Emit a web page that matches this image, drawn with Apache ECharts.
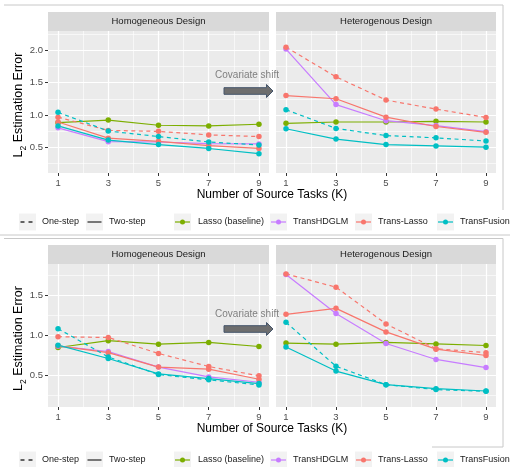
<!DOCTYPE html>
<html><head><meta charset="utf-8">
<script src="https://cdn.jsdelivr.net/npm/echarts@6/dist/echarts.min.js"></script>
<style>html,body{margin:0;padding:0;background:#fff}#c{width:510px;height:467px}</style>
</head><body><div id="c"></div>
<script>
// ---------------- data ----------------
const K = [1, 3, 5, 7, 9];
const xTicks = [1, 3, 5, 7, 9];
const xMinor = [2, 4, 6, 8];
const yTicksTop = [0.5, 1.0, 1.5, 2.0];
const yMinorTop = [0.25, 0.75, 1.25, 1.75, 2.25];
const yTicksBot = [0.5, 1.0, 1.5];
const yMinorBot = [0.25, 0.75, 1.25, 1.75];
const facetNames = ['Homogeneous Design', 'Heterogenous Design'];
const methods = ['Lasso (baseline)', 'TransHDGLM', 'Trans-Lasso', 'TransFusion'];
const methodColors = ['#7CAE00', '#C77CFF', '#F8766D', '#00BFC4'];
const stepNames = ['One-step', 'Two-step'];
const xTitle = 'Number of Source Tasks (K)';
const annotation = 'Covariate shift';

// top figure, homogeneous
const topHomoLasso = [0.88, 0.92, 0.84, 0.83, 0.855];
const topHomoHDGLM = [0.80, 0.585, 0.58, 0.555, 0.55];
const topHomoTLOne = [0.965, 0.76, 0.745, 0.69, 0.665];
const topHomoTLTwo = [0.89, 0.64, 0.59, 0.525, 0.48];
const topHomoTFOne = [1.04, 0.75, 0.665, 0.58, 0.535];
const topHomoTFTwo = [0.83, 0.61, 0.54, 0.48, 0.40];
// top figure, heterogeneous
const topHetLasso = [0.87, 0.89, 0.89, 0.90, 0.89];
const topHetHDGLM = [2.02, 1.16, 0.91, 0.835, 0.74];
const topHetTLOne = [2.05, 1.59, 1.23, 1.09, 0.96];
const topHetTLTwo = [1.30, 1.25, 0.965, 0.82, 0.73];
const topHetTFOne = [1.08, 0.79, 0.68, 0.645, 0.595];
const topHetTFTwo = [0.785, 0.625, 0.54, 0.52, 0.50];
// bottom figure, homogeneous
const botHomoLasso = [0.845, 0.93, 0.887, 0.908, 0.857];
const botHomoHDGLM = [0.862, 0.795, 0.60, 0.476, 0.41];
const botHomoTLOne = [0.98, 0.97, 0.77, 0.607, 0.49];
const botHomoTLTwo = [0.866, 0.78, 0.60, 0.573, 0.447];
const botHomoTFOne = [1.08, 0.727, 0.506, 0.44, 0.376];
const botHomoTFTwo = [0.874, 0.707, 0.514, 0.456, 0.393];
// bottom figure, heterogeneous
const botHetLasso = [0.90, 0.887, 0.908, 0.89, 0.87];
const botHetHDGLM = [1.758, 1.27, 0.895, 0.695, 0.594];
const botHetTLOne = [1.766, 1.60, 1.14, 0.83, 0.78];
const botHetTLTwo = [1.26, 1.335, 1.04, 0.824, 0.745];
const botHetTFOne = [1.16, 0.61, 0.38, 0.318, 0.296];
const botHetTFTwo = [0.85, 0.55, 0.38, 0.33, 0.30];

// ---------------- layout ----------------
const panels = [
  {left: 48, top: 31, width: 221, height: 142, ymin: 0.1, ymax: 2.3, ticks: yTicksTop, minor: yMinorTop, facet: 0, yLabels: true,
   lines: [[0,1,topHomoLasso],[1,1,topHomoHDGLM],[2,0,topHomoTLOne],[2,1,topHomoTLTwo],[3,0,topHomoTFOne],[3,1,topHomoTFTwo]]},
  {left: 276, top: 31, width: 220, height: 142, ymin: 0.1, ymax: 2.3, ticks: yTicksTop, minor: yMinorTop, facet: 1, yLabels: false,
   lines: [[0,1,topHetLasso],[1,1,topHetHDGLM],[2,0,topHetTLOne],[2,1,topHetTLTwo],[3,0,topHetTFOne],[3,1,topHetTFTwo]]},
  {left: 48, top: 264, width: 221, height: 143, ymin: 0.1, ymax: 1.89, ticks: yTicksBot, minor: yMinorBot, facet: 0, yLabels: true,
   lines: [[0,1,botHomoLasso],[1,1,botHomoHDGLM],[2,0,botHomoTLOne],[2,1,botHomoTLTwo],[3,0,botHomoTFOne],[3,1,botHomoTFTwo]]},
  {left: 276, top: 264, width: 220, height: 143, ymin: 0.1, ymax: 1.89, ticks: yTicksBot, minor: yMinorBot, facet: 1, yLabels: false,
   lines: [[0,1,botHetLasso],[1,1,botHetHDGLM],[2,0,botHetTLOne],[2,1,botHetTLTwo],[3,0,botHetTFOne],[3,1,botHetTFTwo]]}
];

const FONT = 'Liberation Sans, Arial, sans-serif';
const grid = [], xAxis = [], yAxis = [], series = [], graphic = [];

panels.forEach((p, i) => {
  grid.push({left: p.left, top: p.top, width: p.width, height: p.height, show: true,
             backgroundColor: '#EBEBEB', borderWidth: 0, containLabel: false});
  // minor axes
  xAxis.push({gridIndex: i, type: 'value', min: 0.6, max: 9.4, position: 'bottom', offset: 0,
    axisLine: {show: false}, axisTick: {show: false, customValues: xMinor},
    axisLabel: {show: false, customValues: xMinor},
    splitLine: {show: true, lineStyle: {color: '#FFFFFF', width: 0.6}}});
  yAxis.push({gridIndex: i, type: 'value', min: p.ymin, max: p.ymax, position: 'left', offset: 0,
    axisLine: {show: false}, axisTick: {show: false, customValues: p.minor},
    axisLabel: {show: false, customValues: p.minor},
    splitLine: {show: true, lineStyle: {color: '#FFFFFF', width: 0.6}}});
  // major axes
  xAxis.push({gridIndex: i, type: 'value', min: 0.6, max: 9.4, position: 'bottom', offset: 0,
    axisLine: {show: false},
    axisTick: {show: true, customValues: xTicks, length: 3, lineStyle: {color: '#333333', width: 1}},
    axisLabel: {show: true, customValues: xTicks, color: '#4D4D4D', fontSize: 9.5, fontFamily: FONT, margin: 5},
    splitLine: {show: true, lineStyle: {color: '#FFFFFF', width: 1.2}}});
  yAxis.push({gridIndex: i, type: 'value', min: p.ymin, max: p.ymax, position: 'left', offset: 0,
    axisLine: {show: false},
    axisTick: {show: p.yLabels, customValues: p.ticks, length: 3, lineStyle: {color: '#333333', width: 1}},
    axisLabel: {show: p.yLabels, customValues: p.ticks, color: '#4D4D4D', fontSize: 9.5, fontFamily: FONT, margin: 5,
                formatter: v => Number(v).toFixed(1)},
    splitLine: {show: true, lineStyle: {color: '#FFFFFF', width: 1.2}}});

  p.lines.forEach(([m, step, arr]) => {
    series.push({
      type: 'line', xAxisIndex: 2 * i + 1, yAxisIndex: 2 * i + 1,
      name: methods[m] + ' ' + stepNames[step],
      data: K.map((k, j) => [k, arr[j]]),
      symbol: 'circle', symbolSize: 5.5, showSymbol: true,
      lineStyle: {color: methodColors[m], width: 1.2, type: step === 0 ? [4, 3.5] : 'solid'},
      itemStyle: {color: methodColors[m]},
      emphasis: {disabled: true}, silent: true, z: 3
    });
  });

  // facet strip
  graphic.push({type: 'rect', shape: {x: p.left, y: p.top - 19, width: p.width, height: 19},
                style: {fill: '#D9D9D9'}, silent: true});
  graphic.push({type: 'text', x: p.left + p.width / 2, y: p.top - 9.5,
                style: {text: facetNames[p.facet], fill: '#1A1A1A', font: '9.5px ' + FONT, align: 'center', verticalAlign: 'middle'}, silent: true});
});

// figure-level texts
[{top: 31, h: 142, titleY: 194.5, annY: 75.5, arrowY: 91, legY: 222},
 {top: 264, h: 143, titleY: 428.5, annY: 314, arrowY: 329, legY: 460}].forEach(f => {
  graphic.push({type: 'text', x: 272, y: f.titleY,
    style: {text: xTitle, fill: '#000000', font: '12px ' + FONT, align: 'center', verticalAlign: 'middle'}});
  graphic.push({type: 'text', x: 17, y: f.top + f.h / 2 + 3, rotation: Math.PI / 2,
    style: {text: '{a|L}{b|2}{a| Estimation Error}', align: 'center', verticalAlign: 'middle',
      rich: {a: {fontSize: 12.5, fontFamily: FONT, fill: '#000000', lineHeight: 16, verticalAlign: 'bottom'},
             b: {fontSize: 8.5, fontFamily: FONT, fill: '#000000', lineHeight: 10, verticalAlign: 'bottom', padding: [0, 0, -3, 0]}}}});
  // annotation
  graphic.push({type: 'text', x: 247, y: f.annY,
    style: {text: annotation, fill: '#7F7F7F', font: '10px ' + FONT, align: 'center', verticalAlign: 'middle'}, z: 10});
  graphic.push({type: 'polygon', shape: {points: [[224, f.arrowY - 3.3], [266.5, f.arrowY - 3.3], [266.5, f.arrowY - 6.5],
      [273, f.arrowY], [266.5, f.arrowY + 6.5], [266.5, f.arrowY + 3.3], [224, f.arrowY + 3.3]]},
    style: {fill: '#6E6E6E', stroke: '#44546A', lineWidth: 1}, z: 10});
  // legend
  const ly = f.legY;
  const keyX = [19, 86, 174, 270, 355, 437];
  const txtX = [42, 109, 198, 293, 378, 460];
  const labels = stepNames.concat(methods);
  labels.forEach((lab, idx) => {
    graphic.push({type: 'rect', shape: {x: keyX[idx], y: ly - 8.5, width: 17, height: 17}, style: {fill: '#F2F2F2'}});
    if (idx < 2) {
      graphic.push({type: 'line', shape: {x1: keyX[idx] + 1.5, y1: ly, x2: keyX[idx] + 15.5, y2: ly},
        style: {stroke: '#333333', lineWidth: 1.3, lineDash: idx === 0 ? [4, 4] : null}});
    } else {
      const c = methodColors[idx - 2];
      graphic.push({type: 'line', shape: {x1: keyX[idx] + 1, y1: ly, x2: keyX[idx] + 16, y2: ly},
        style: {stroke: c, lineWidth: 1.2}});
      graphic.push({type: 'circle', shape: {cx: keyX[idx] + 8.5, cy: ly, r: 2.5}, style: {fill: c}});
    }
    graphic.push({type: 'text', x: txtX[idx], y: ly,
      style: {text: lab, fill: '#1A1A1A', font: '9px ' + FONT, align: 'left', verticalAlign: 'middle'}});
  });
});

// frame lines of the composite picture
const frameColor = '#C8C8C8';
[[4, 5, 503, 5], [503, 5, 503, 210], [0, 235, 510, 235], [4, 238.5, 503, 238.5], [503, 238.5, 503, 447], [432, 447, 503, 447]]
  .forEach(s => graphic.push({type: 'line', shape: {x1: s[0], y1: s[1], x2: s[2], y2: s[3]}, style: {stroke: frameColor, lineWidth: 1}}));

const chart = echarts.init(document.getElementById('c'), null, {renderer: 'canvas'});
chart.setOption({animation: false, backgroundColor: '#FFFFFF', grid, xAxis, yAxis, series, graphic});
</script>
</body></html>
